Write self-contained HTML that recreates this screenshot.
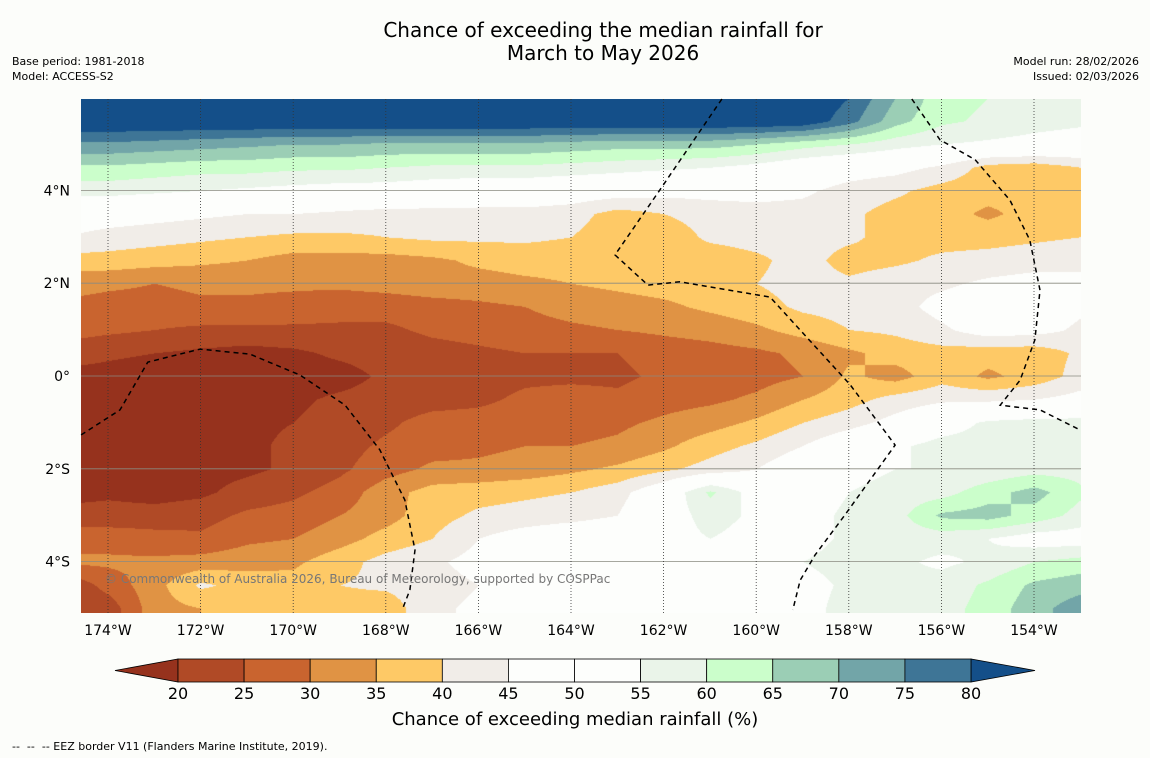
<!DOCTYPE html>
<html><head><meta charset="utf-8">
<style>
body{margin:0;background:#fcfdfa;font-family:"DejaVu Sans",sans-serif;}
#wrap{position:relative;width:1150px;height:758px;overflow:hidden;background:#fcfdfa;}
.t{position:absolute;white-space:nowrap;color:#000;font-family:"DejaVu Sans",sans-serif;}
</style></head><body>
<div id="wrap">
<div class="t" style="left:0;width:1206px;text-align:center;top:19px;font-size:20px;line-height:23px;">Chance of exceeding the median rainfall for<br>March to May 2026</div>
<div class="t" style="left:12px;top:55px;font-size:11px;">Base period: 1981-2018</div>
<div class="t" style="left:12px;top:70px;font-size:11px;">Model: ACCESS-S2</div>
<div class="t" style="right:11px;top:55px;font-size:11px;">Model run: 28/02/2026</div>
<div class="t" style="right:11px;top:70px;font-size:11px;">Issued: 02/03/2026</div>
<canvas id="map" width="1000" height="514" style="position:absolute;left:81px;top:99px;"></canvas>
<svg id="ov" width="1150" height="758" style="position:absolute;left:0;top:0;"></svg>
<div class="t" style="left:105px;top:572px;font-size:12px;color:#777;">© Commonwealth of Australia 2026, Bureau of Meteorology, supported by COSPPac</div>
<div class="t" style="left:0;width:1150px;text-align:center;top:709px;font-size:18px;">Chance of exceeding median rainfall (%)</div>
<div class="t" style="left:12px;top:740px;font-size:11px;">--&nbsp; --&nbsp; -- EEZ border V11 (Flanders Marine Institute, 2019).</div>
</div>
<script>
const gridLons=[-175,-174,-173,-172,-171,-170,-169,-168,-167,-166,-165,-164,-163,-162,-161,-160,-159,-158,-157,-156,-155,-154,-153];
const gridLats=[6,5.5,5,4.5,4,3.5,3,2.5,2,1.5,1,0.5,0,-0.5,-1,-1.5,-2,-2.5,-3,-3.5,-4,-4.5,-5,-5.5];
const values=[
[85,85,85,85,85,85,85,85,85,85,85,85,85,85,85,85,85,80,70,62,60,58,57],
[85,85,85,85,85,85,85,85,85,85,85,85,85,85,85,85,84,77,67,61,59,57,56],
[74,74,73,72,71,70,70,69,69,69,69,68,67,67,67,65,62,60,57,55,54,53,52],
[64,64,63,62,62,61,61,60,59,59,59,58,57,56,55,53,50,48,47,44,38,37,40],
[57,57,56,55,54,53,52,52,51,50,50,49,48,47,47,47,46,43,41,38,37,36,37],
[49,48,47,46,45,45,44,43,43,43,43,42,38,40,42,43,43,41,38,37,34,37,38],
[45,43,42,41,40,39,39,40,41,41,41,40,37,37,41,42,42,41,38,38,38,39,40],
[38,38,37,36,35,33,33,33,34,36,37,37,38,38,37,39,42,38,39,41,42,43,44],
[32,31,30,31,31,31,31,32,33,33,34,35,36,37,38,40,42,41,43,44,46,47,46],
[29,28,28,29,29,28,27,27,28,29,30,32,33,34,36,38,41,42,43,47,50,49,46],
[27,26,25,24,24,24,24,24,26,27,28,29,30,31,32,34,37,40,41,44,48,47,44],
[23,21,20,19,18,19,21,22,23,24,25,25,25,27,28,29,31,34,37,38,37,37,41],
[18,18,17,17,17,17,18,21,22,23,24,24,24,26,27,28,30,36,33,38,34,37,42],
[18,17,17,17,18,19,21,22,23,24,26,27,26,28,29,31,35,38,42,44,44,45,47],
[18,18,18,18,19,20,22,24,27,27,28,28,29,31,33,36,40,43,47,52,56,57,57],
[18,18,18,18,19,21,23,26,28,29,30,30,31,34,38,41,45,50,54,57,57,57,58],
[18,18,18,18,19,21,24,28,31,31,32,34,36,39,42,45,50,53,55,55,56,58,58],
[18,19,18,19,22,24,27,33,37,38,39,40,43,50,61,52,52,55,57,58,63,67,61],
[22,22,22,23,26,27,30,33,38,41,42,43,45,52,57,54,53,56,58,66,67,63,58],
[28,28,27,26,29,30,33,37,40,45,48,50,51,53,55,53,53,56,57,57,55,52,52],
[31,31,31,32,33,34,38,42,44,47,50,50,51,52,52,53,55,57,56,54,56,60,62],
[20,27,33,41,38,37,40,41,43,45,47,49,50,51,51,51,53,56,56,57,61,66,68],
[20,22,33,35,36,38,38,37,44,46,48,50,50,51,51,51,53,57,57,58,62,68,73],
[20,22,33,35,36,38,38,37,44,46,48,50,50,51,51,51,53,57,57,58,62,68,73]];
const levels=[20,25,30,35,40,45,50,55,60,65,70,75,80];
const tickLabels=["20","25","30","35","40","45","50","55","60","65","70","75","80"];
const lonTicks=[-174,-172,-170,-168,-166,-164,-162,-160,-158,-156,-154];
const latTicks=[4,2,0,-2,-4];
const eez1Lon=[-174.58,-173.74,-173.14,-172.01,-170.93,-169.85,-168.88,-168.13,-167.59,-167.37,-167.48,-167.63];
const eez1Lat=[-1.27,-0.73,0.30,0.58,0.47,0.02,-0.63,-1.59,-2.67,-3.75,-4.61,-5.0];
const eez2Lon=[-160.74,-162.08,-163.05,-162.34,-161.65,-160.35,-159.70,-159.05,-157.97,-157.00,-157.54,-158.08,-158.73,-159.05,-159.21];
const eez2Lat=[5.97,4.01,2.61,1.96,2.03,1.81,1.70,0.99,-0.19,-1.49,-2.24,-2.99,-3.86,-4.40,-5.04];
const eez3Lon=[-156.64,-156.03,-155.27,-154.52,-154.09,-153.87,-153.98,-154.30,-154.73,-153.87,-153.01];
const eez3Lat=[5.97,5.09,4.66,3.79,2.93,1.85,0.78,-0.09,-0.63,-0.73,-1.16];
const colors=["#96321d","#b04a26","#c9642f","#e09344","#fec966","#f1ede8","#fdfefc","#fdfefc","#eaf4e9","#cbfecb","#9bceb5","#72a5a8","#3e7596","#144f89"];
const X=lon=>108+(lon+174)*46.3;
const Y=lat=>376-lat*46.4;
function hex(c){return [parseInt(c.substr(1,2),16),parseInt(c.substr(3,2),16),parseInt(c.substr(5,2),16)];}
const rgb=colors.map(hex);
const cv=document.getElementById('map'),ctx=cv.getContext('2d');
const img=ctx.createImageData(1000,514);
for(let py=0;py<514;py++){
  const lat=(376-(py+99))/46.4;
  let fy=(gridLats[0]-lat)/0.5; if(fy<0)fy=0; if(fy>gridLats.length-1.001)fy=gridLats.length-1.001;
  const r0=Math.floor(fy),ty=fy-r0;
  for(let px=0;px<1000;px++){
    const lon=-174+((px+81)-108)/46.3;
    let fx=lon-gridLons[0]; if(fx<0)fx=0; if(fx>gridLons.length-1.001)fx=gridLons.length-1.001;
    const c0=Math.floor(fx),tx=fx-c0;
    const v=(values[r0][c0]*(1-tx)+values[r0][c0+1]*tx)*(1-ty)+(values[r0+1][c0]*(1-tx)+values[r0+1][c0+1]*tx)*ty;
    let i=0;while(i<levels.length&&v>=levels[i])i++;
    const c=rgb[i],k=(py*1000+px)*4;
    img.data[k]=c[0];img.data[k+1]=c[1];img.data[k+2]=c[2];img.data[k+3]=255;
  }
}
ctx.putImageData(img,0,0);
const ov=document.getElementById('ov'),NS='http://www.w3.org/2000/svg';
function mk(t,a,p){const e=document.createElementNS(NS,t);for(const k in a)e.setAttribute(k,a[k]);(p||ov).appendChild(e);return e;}
latTicks.forEach(lat=>{
  const l=mk('line',{x1:81,x2:1081,y1:Y(lat),y2:Y(lat),stroke:'#8a8a80','stroke-width':0.8});
  
  
  const t=mk('text',{x:70,y:Y(lat)+5,'text-anchor':'end','font-size':14,'font-family':'DejaVu Sans, sans-serif'});
  t.textContent=lat===0?'0°':Math.abs(lat)+'°'+(lat>0?'N':'S');
  
  
});
lonTicks.forEach(lon=>{
  const l=mk('line',{x1:X(lon),x2:X(lon),y1:99,y2:613,stroke:'#333','stroke-width':0.8,'stroke-dasharray':'1,2'});
  
  
  const t=mk('text',{x:X(lon),y:635,'text-anchor':'middle','font-size':14,'font-family':'DejaVu Sans, sans-serif'});
  t.textContent=Math.abs(lon)+'°W';
  
  
});
[[eez1Lon,eez1Lat],[eez2Lon,eez2Lat],[eez3Lon,eez3Lat]].forEach(([lo,la])=>{
  const pts=lo.map((v,i)=>X(v).toFixed(1)+','+Y(la[i]).toFixed(1)).join(' ');
  const p=mk('polyline',{points:pts,fill:'none',stroke:'#000','stroke-width':1.5,'stroke-dasharray':'5,4'});
  
  
});
const cbX=v=>178+(v-20)*(971-178)/60, cbT=659, cbB=682;
const lt=mk('polygon',{points:`115,${(cbT+cbB)/2} ${cbX(20)},${cbT} ${cbX(20)},${cbB}`,fill:colors[0],stroke:'#000','stroke-width':0.8});


const rt=mk('polygon',{points:`1035,${(cbT+cbB)/2} ${cbX(80)},${cbT} ${cbX(80)},${cbB}`,fill:colors[13],stroke:'#000','stroke-width':0.8});


for(let i=0;i<levels.length-1;i++){
  const r=mk('rect',{x:cbX(levels[i]),y:cbT,width:cbX(levels[i+1])-cbX(levels[i]),height:cbB-cbT,fill:colors[i+1],stroke:'#000','stroke-width':0.8});
  
  
}
levels.forEach((v,i)=>{
  const t=mk('text',{x:cbX(v),y:699,'text-anchor':'middle','font-size':16,'font-family':'DejaVu Sans, sans-serif'});
  t.textContent=tickLabels[i];
  
  
});
</script>
</body></html>
